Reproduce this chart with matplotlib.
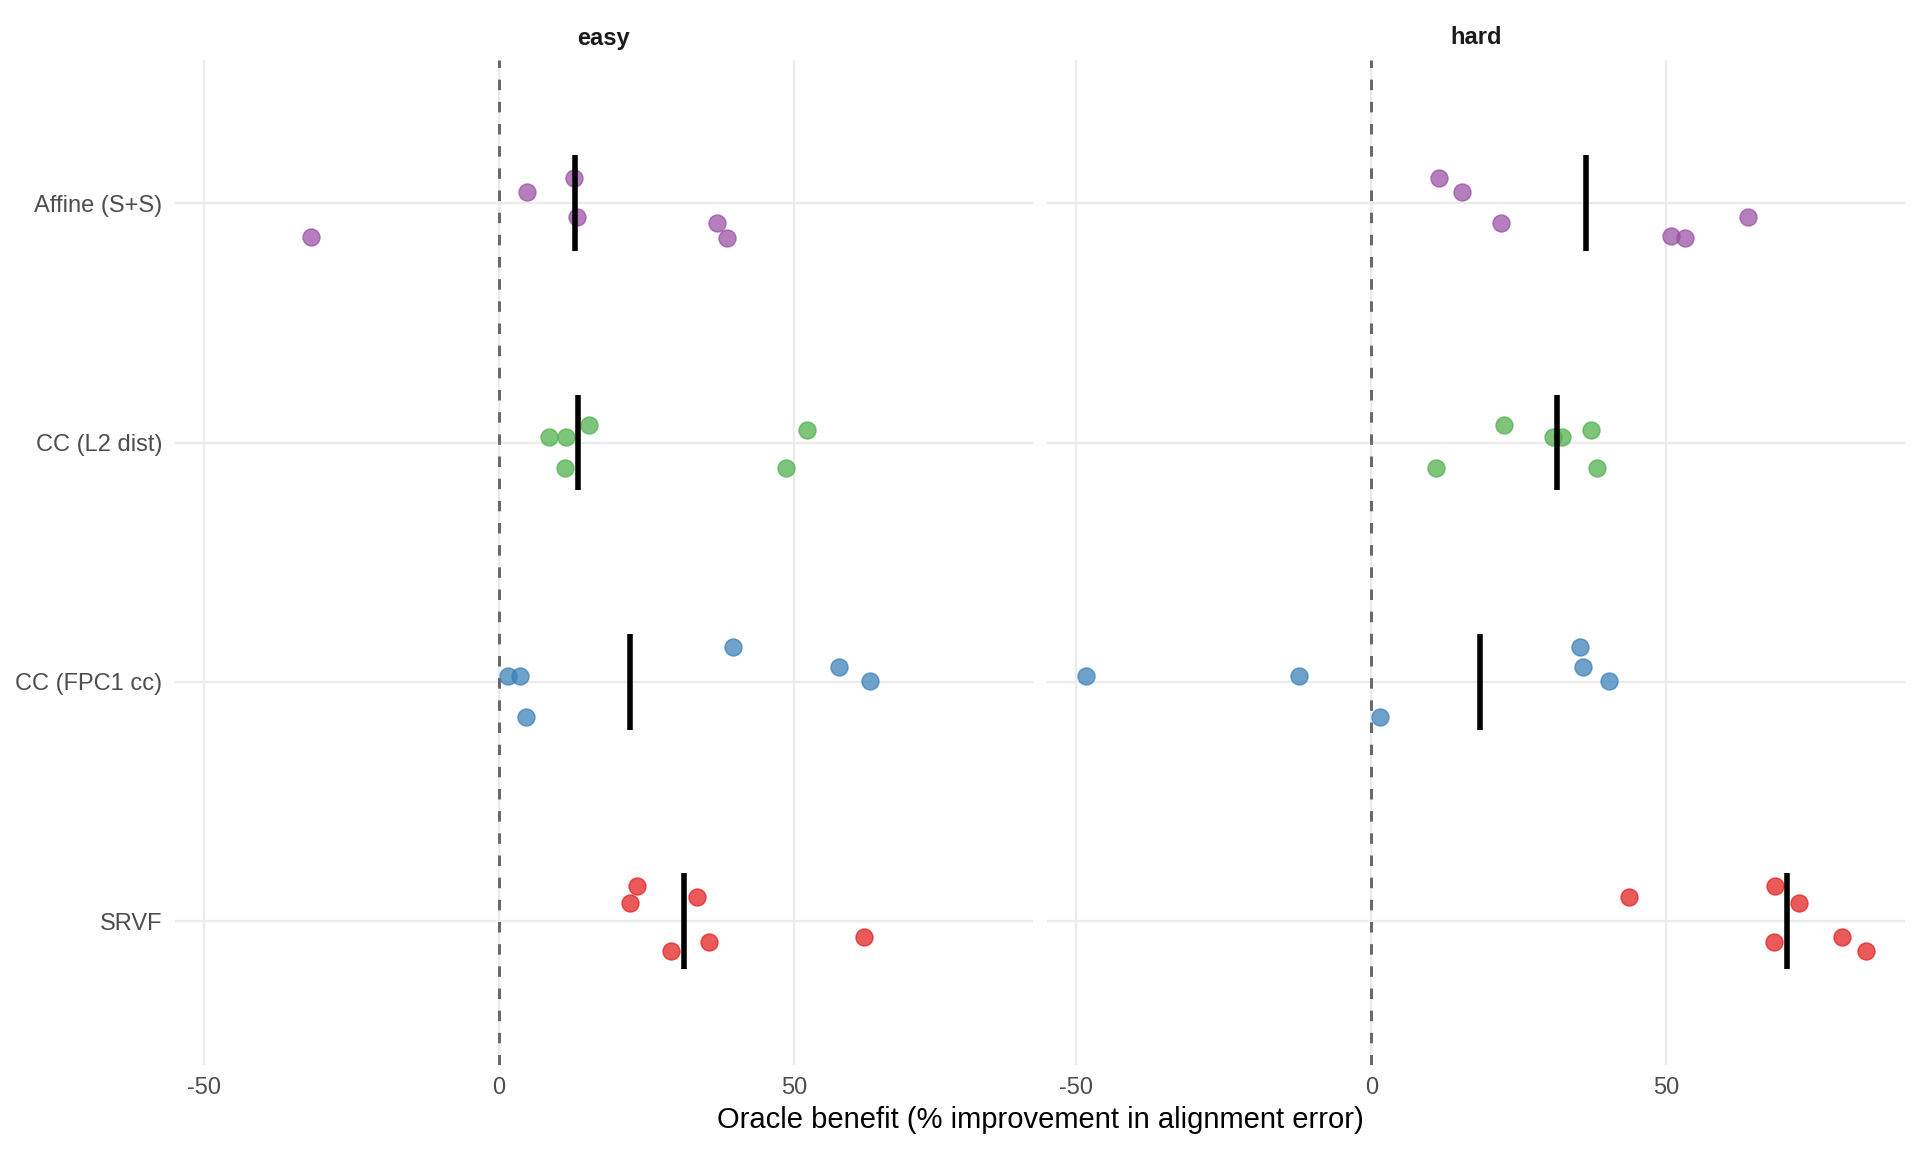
import numpy as np
import matplotlib.pyplot as plt

# Oracle benefit per subject (x value, vertical jitter in category units)
methods = ['Affine (S+S)', 'CC (L2 dist)', 'CC (FPC1 cc)', 'SRVF']
panels = ['easy', 'hard']
method_colors = ['#984EA3', '#4DAF4A', '#377EB8', '#E41A1C']

affine_easy = [-31.9, 4.8, 12.7, 13.2, 37.0, 38.7]
affine_easy_dy = [0.140, -0.046, -0.103, 0.058, 0.084, 0.146]
affine_hard = [11.4, 15.4, 22.0, 50.8, 53.2, 63.8]
affine_hard_dy = [-0.103, -0.046, 0.084, 0.139, 0.145, 0.058]

l2_easy = [8.5, 11.3, 15.3, 11.2, 52.2, 48.7]
l2_easy_dy = [-0.025, -0.025, -0.073, 0.107, -0.053, 0.107]
l2_hard = [22.4, 30.7, 32.3, 37.3, 10.9, 38.3]
l2_hard_dy = [-0.072, -0.025, -0.025, -0.053, 0.107, 0.107]

fpc_easy = [39.7, 57.6, 62.8, 1.6, 3.6, 4.6]
fpc_easy_dy = [-0.146, -0.063, -0.002, -0.026, -0.026, 0.148]
fpc_hard = [-48.4, -12.2, 1.4, 35.4, 35.8, 40.3]
fpc_hard_dy = [-0.026, -0.026, 0.148, -0.146, -0.063, -0.002]

srvf_easy = [23.3, 22.2, 33.5, 61.9, 35.6, 29.2]
srvf_easy_dy = [-0.149, -0.075, -0.100, 0.067, 0.088, 0.125]
srvf_hard = [43.6, 68.4, 72.5, 68.2, 79.7, 83.8]
srvf_hard_dy = [-0.100, -0.149, -0.075, 0.088, 0.067, 0.125]

data = {
    'easy': [(affine_easy, affine_easy_dy), (l2_easy, l2_easy_dy),
             (fpc_easy, fpc_easy_dy), (srvf_easy, srvf_easy_dy)],
    'hard': [(affine_hard, affine_hard_dy), (l2_hard, l2_hard_dy),
             (fpc_hard, fpc_hard_dy), (srvf_hard, srvf_hard_dy)],
}

plt.rcParams['font.family'] = ['Liberation Sans', 'DejaVu Sans']
plt.rcParams['axes.unicode_minus'] = False

fig = plt.figure(figsize=(19.2, 11.52), dpi=100)
W, H = 1920, 1152
panel_w = 857.6
lefts = [175, 1047.3]
bottom = 1 - 1065 / H
height = (1065 - 59.5) / H

for p, (panel, left) in enumerate(zip(panels, lefts)):
    ax = fig.add_axes([left / W, bottom, panel_w / W, height])
    ax.set_xlim(-54.9, 90.4)
    ax.set_ylim(3.6, -0.6)
    ax.set_xticks([-50, 0, 50])
    ax.set_yticks(range(len(methods)))
    ax.set_yticklabels(methods if p == 0 else [])
    ax.grid(True, color='#EBEBEB', linewidth=1.6, zorder=0)
    ax.set_axisbelow(True)
    for s in ax.spines.values():
        s.set_visible(False)
    ax.tick_params(length=0, labelsize=17, labelcolor='#4D4D4D', pad=9)
    ax.axvline(0, color='#666666', linewidth=2.1, linestyle=(0, (3.6, 4)), zorder=1)

    for i, (vals, dys) in enumerate(data[panel]):
        y = i + np.array(dys)
        ax.scatter(vals, y, s=150, color=method_colors[i], alpha=0.72,
                   edgecolors=method_colors[i], linewidths=1.0, zorder=3)
        # median marker
        med = np.median(vals)
        ax.plot([med, med], [i - 0.2, i + 0.2], color='black', linewidth=4,
                solid_capstyle='butt', zorder=4)

    fig.text((left + panel_w / 2) / W, 1 - 38 / H, panel, ha='center', va='center',
             fontsize=17, fontweight='bold', color='#1A1A1A')

fig.text(1040 / W, 1 - 1120 / H, 'Oracle benefit (% improvement in alignment error)',
         ha='center', va='center', fontsize=21, color='black')

plt.savefig('out.png', dpi=100)
